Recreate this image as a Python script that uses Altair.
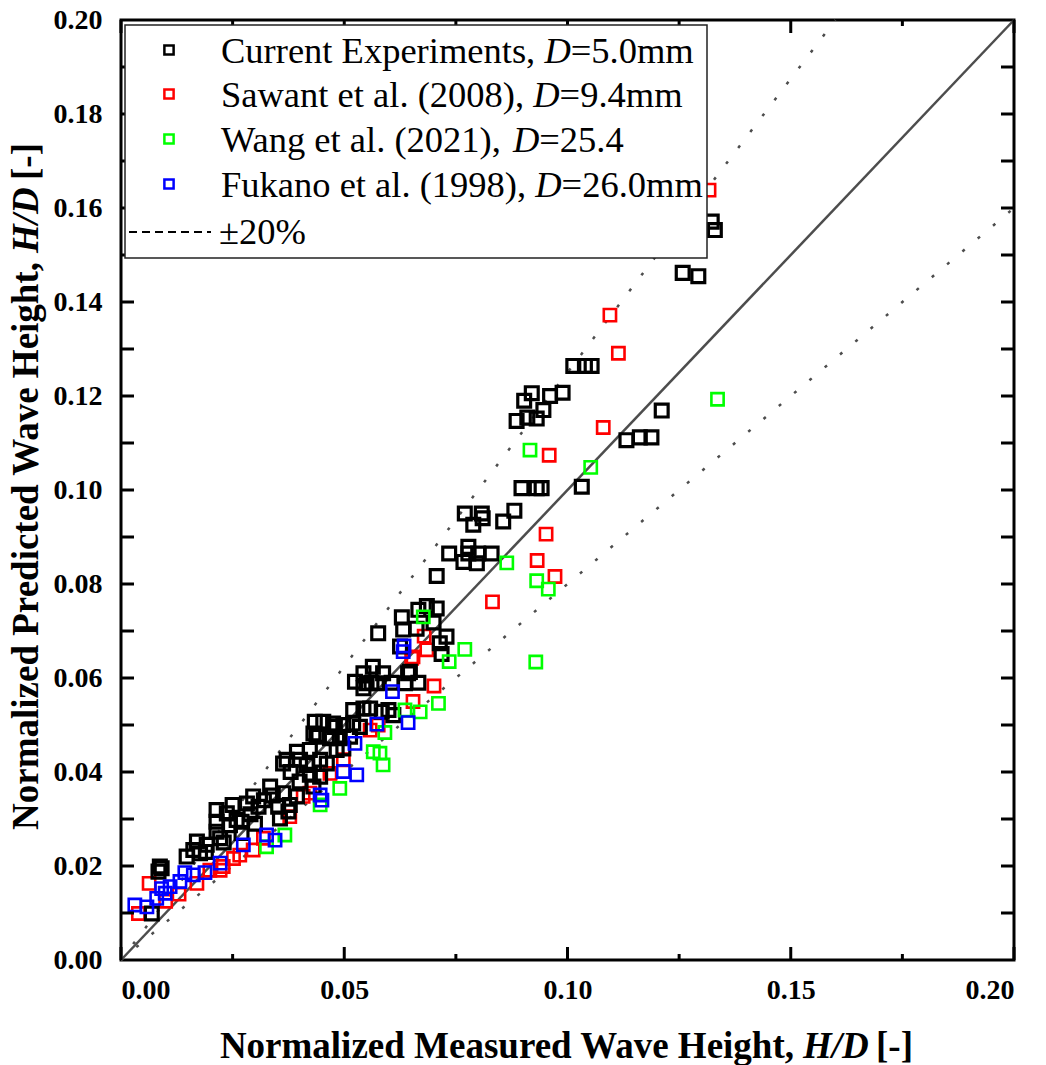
import altair as alt
import pandas as pd

# ---------------- data ----------------
black_x = [0.1323, 0.1330, 0.1258, 0.1293, 0.1013, 0.1039, 0.1054, 0.0989, 0.0961, 0.0920,
           0.0903, 0.0946, 0.0931, 0.0910, 0.0886, 0.1211, 0.1132, 0.1162, 0.1188, 0.0897,
           0.0931, 0.0942, 0.1032, 0.0770, 0.0808, 0.0789, 0.0810, 0.0881, 0.0856, 0.0735,
           0.0778, 0.0778, 0.0800, 0.0830, 0.0767, 0.0797, 0.0707, 0.0666, 0.0685, 0.0707,
           0.0629, 0.0700, 0.0632, 0.0662, 0.0576, 0.0729, 0.0714, 0.0718, 0.0625, 0.0564,
           0.0543, 0.0587, 0.0524, 0.0561, 0.0606, 0.0643, 0.0666, 0.0647, 0.0636, 0.0550,
           0.0573, 0.0543, 0.0520, 0.0543, 0.0558, 0.0584, 0.0599, 0.0610, 0.0434, 0.0453,
           0.0475, 0.0479, 0.0498, 0.0520, 0.0535, 0.0438, 0.0472, 0.0431, 0.0442, 0.0468,
           0.0490, 0.0513, 0.0498, 0.0483, 0.0394, 0.0371, 0.0401, 0.0423, 0.0446, 0.0461,
           0.0416, 0.0363, 0.0423, 0.0446, 0.0431, 0.0334, 0.0363, 0.0394, 0.0378, 0.0352,
           0.0296, 0.0308, 0.0282, 0.0214, 0.0237, 0.0259, 0.0214, 0.0244, 0.0270, 0.0356,
           0.0375, 0.0170, 0.0192, 0.0214, 0.0222, 0.0177, 0.0162, 0.0147, 0.0091, 0.0084,
           0.0087, 0.0069, 0.0250, 0.0290, 0.0320, 0.0340, 0.0270, 0.0300, 0.0190, 0.0230,
           0.0400, 0.0380]
black_y = [0.1571, 0.1553, 0.1462, 0.1455, 0.1264, 0.1264, 0.1264, 0.1207, 0.1200, 0.1206,
           0.1190, 0.1170, 0.1152, 0.1154, 0.1147, 0.1169, 0.1106, 0.1112, 0.1112, 0.1004,
           0.1004, 0.1004, 0.1007, 0.0950, 0.0950, 0.0926, 0.0940, 0.0956, 0.0933, 0.0865,
           0.0879, 0.0865, 0.0865, 0.0865, 0.0847, 0.0844, 0.0817, 0.0745, 0.0753, 0.0748,
           0.0729, 0.0718, 0.0703, 0.0705, 0.0695, 0.0688, 0.0674, 0.0651, 0.0667, 0.0624,
           0.0610, 0.0610, 0.0592, 0.0590, 0.0590, 0.0610, 0.0590, 0.0613, 0.0589, 0.0589,
           0.0589, 0.0578, 0.0532, 0.0535, 0.0535, 0.0528, 0.0532, 0.0521, 0.0507, 0.0507,
           0.0503, 0.0496, 0.0500, 0.0503, 0.0496, 0.0479, 0.0475, 0.0482, 0.0475, 0.0472,
           0.0472, 0.0475, 0.0450, 0.0447, 0.0443, 0.0426, 0.0426, 0.0447, 0.0426, 0.0418,
           0.0415, 0.0418, 0.0394, 0.0390, 0.0369, 0.0369, 0.0355, 0.0348, 0.0330, 0.0326,
           0.0348, 0.0326, 0.0333, 0.0319, 0.0312, 0.0298, 0.0294, 0.0287, 0.0294, 0.0301,
           0.0316, 0.0252, 0.0245, 0.0273, 0.0259, 0.0227, 0.0234, 0.0220, 0.0195, 0.0188,
           0.0199, 0.0099, 0.0330, 0.0310, 0.0340, 0.0350, 0.0270, 0.0290, 0.0230, 0.0250,
           0.0380, 0.0400]

red_x = [0.1317, 0.1095, 0.1114, 0.1080, 0.0959, 0.0952, 0.0932, 0.0972, 0.0832, 0.0679,
         0.0685, 0.0654, 0.0701, 0.0654, 0.0651, 0.0576, 0.0558, 0.0498, 0.0468, 0.0423,
         0.0408, 0.0378, 0.0319, 0.0296, 0.0266, 0.0252, 0.0222, 0.0199, 0.0229, 0.0170,
         0.0063, 0.0039, 0.0100, 0.0130]
red_y = [0.1638, 0.1372, 0.1291, 0.1133, 0.1074, 0.0906, 0.0850, 0.0816, 0.0762, 0.0689,
         0.0660, 0.0645, 0.0583, 0.0550, 0.0642, 0.0500, 0.0489, 0.0426, 0.0397, 0.0355,
         0.0348, 0.0305, 0.0259, 0.0234, 0.0223, 0.0216, 0.0191, 0.0191, 0.0199, 0.0163,
         0.0163, 0.0099, 0.0125, 0.0140]

green_x = [0.1336, 0.0916, 0.1052, 0.0864, 0.0931, 0.0957, 0.0929, 0.0770, 0.0735, 0.0677,
           0.0711, 0.0670, 0.0636, 0.0591, 0.0580, 0.0587, 0.0565, 0.0490, 0.0446, 0.0367,
           0.0326]
green_y = [0.1193, 0.1085, 0.1048, 0.0845, 0.0807, 0.0789, 0.0634, 0.0661, 0.0635, 0.0730,
           0.0546, 0.0528, 0.0532, 0.0484, 0.0440, 0.0415, 0.0443, 0.0365, 0.0330, 0.0266,
           0.0241]

blue_x = [0.0632, 0.0634, 0.0608, 0.0643, 0.0573, 0.0524, 0.0498, 0.0528, 0.0450, 0.0446,
          0.0345, 0.0326, 0.0274, 0.0222, 0.0188, 0.0162, 0.0143, 0.0132, 0.0110, 0.0099,
          0.0080, 0.0091, 0.0058, 0.0031]
blue_y = [0.0656, 0.0668, 0.0571, 0.0505, 0.0502, 0.0461, 0.0401, 0.0394, 0.0340, 0.0351,
          0.0255, 0.0266, 0.0245, 0.0206, 0.0186, 0.0181, 0.0186, 0.0167, 0.0156, 0.0142,
          0.0131, 0.0152, 0.0113, 0.0117]

ref_x = [0.0, 0.2]
ref_y = [0.0, 0.2]
upper_x = [0.0, 0.16]
upper_y = [0.0, 0.2]
lower_x = [0.0, 0.2]
lower_y = [0.0, 0.16]

x_labels = [0.0, 0.05, 0.10, 0.15, 0.20]
x_minor = [0.025, 0.075, 0.125, 0.175]
y_labels = [0.0, 0.02, 0.04, 0.06, 0.08, 0.10, 0.12, 0.14, 0.16, 0.18, 0.20]
y_ticks = [0.01, 0.02, 0.03, 0.04, 0.05, 0.06, 0.07, 0.08, 0.09, 0.10,
           0.11, 0.12, 0.13, 0.14, 0.15, 0.16, 0.17, 0.18, 0.19]

legend_labels = [
    ("Current Experiments,", "D", "=5.0mm"),
    ("Sawant et al. (2008),", "D", "=9.4mm"),
    ("Wang et al. (2021),", "D", "=25.4"),
    ("Fukano et al. (1998),", "D", "=26.0mm"),
]
legend_colors = ["#000000", "#ff0000", "#00ff00", "#0000ff"]
band_label = "±20%"
x_title = ("Normalized Measured Wave Height,", "H/D", "[-]")
y_title = ("Normalized Predicted Wave Height,", "H/D", "[-]")

# ---------------- layout ----------------
W, H = 893, 940
PAD_L, PAD_T = 121, 20
FONT = "Liberation Serif"

REG = {' ': 250, ',': 250, '.': 250, '(': 333, ')': 333, '=': 564, 'C': 667, 'E': 611,
       'S': 556, 'W': 944, 'F': 556, 'a': 444, 'e': 444, 'i': 278, 'k': 500, 'l': 278,
       'm': 778, 'n': 500, 'o': 500, 'p': 500, 'r': 333, 's': 389, 't': 278, 'u': 500,
       'w': 722, 'x': 500, 'g': 500, 'D': 722}
BOLD = {' ': 250, ',': 250, '-': 333, '[': 333, ']': 333, 'N': 722, 'M': 944, 'W': 1000,
        'H': 778, 'P': 611, 'a': 500, 'c': 444, 'd': 556, 'e': 444, 'g': 500, 'h': 556,
        'i': 278, 'l': 278, 'm': 833, 'o': 500, 'r': 444, 's': 389, 't': 333, 'u': 556,
        'v': 500, 'z': 444, '/': 278, 'D': 722}


def width(s, table, fs):
    return sum(table.get(c, 500) for c in s) * fs / 1000.0


one = pd.DataFrame({"k": [0]})

xscale = alt.Scale(domain=[0, 0.2], nice=False, zero=False)
yscale = alt.Scale(domain=[0, 0.2], nice=False, zero=False)
axis_common = dict(labelFont=FONT, labelFontWeight="bold", labelFontSize=28, labelColor="black",
                   ticks=False, tickSize=0, domain=False, grid=False, title=None, format=".2f")
xaxis = alt.Axis(values=x_labels, labelPadding=16, **axis_common)
yaxis = alt.Axis(values=y_labels, labelPadding=19, **axis_common)


def scatter(xs, ys, color, size, sw):
    df = pd.DataFrame({"x": xs, "y": ys})
    return alt.Chart(df).mark_point(shape="square", filled=False, color=color, size=size,
                                    strokeWidth=sw, opacity=1).encode(
        x=alt.X("x:Q", scale=xscale, axis=xaxis),
        y=alt.Y("y:Q", scale=yscale, axis=yaxis))


def refline(xs, ys, dash):
    df = pd.DataFrame({"x": xs, "y": ys})
    kw = dict(color="#4d4d4d", strokeWidth=2.5)
    if dash:
        kw["strokeDash"] = [3, 17]
    return alt.Chart(df).mark_line(**kw).encode(
        x=alt.X("x:Q", scale=xscale, axis=xaxis),
        y=alt.Y("y:Q", scale=yscale, axis=yaxis))


layers = []
layers.append(refline(upper_x, upper_y, True))
layers.append(refline(lower_x, lower_y, True))
layers.append(refline(ref_x, ref_y, False))
layers.append(scatter(red_x, red_y, "#ff0000", 150, 2.6))
layers.append(scatter(black_x, black_y, "#000000", 165, 3.2))
layers.append(scatter(green_x, green_y, "#00ff00", 150, 2.6))
layers.append(scatter(blue_x, blue_y, "#0000ff", 150, 2.6))

# inward ticks
MAJ, MIN = 13, 6
tick_style = dict(color="black", strokeWidth=3)
for vals, ln in ((x_labels, MAJ), (x_minor, MIN)):
    d = pd.DataFrame({"v": vals})
    layers.append(alt.Chart(d).mark_rule(**tick_style).encode(
        x=alt.X("v:Q", scale=xscale, axis=xaxis), y=alt.value(H), y2=alt.value(H - ln)))
    layers.append(alt.Chart(d).mark_rule(**tick_style).encode(
        x=alt.X("v:Q", scale=xscale, axis=xaxis), y=alt.value(0), y2=alt.value(ln)))
dy = pd.DataFrame({"v": y_ticks})
layers.append(alt.Chart(dy).mark_rule(**tick_style).encode(
    y=alt.Y("v:Q", scale=yscale, axis=yaxis), x=alt.value(0), x2=alt.value(MAJ)))
layers.append(alt.Chart(dy).mark_rule(**tick_style).encode(
    y=alt.Y("v:Q", scale=yscale, axis=yaxis), x=alt.value(W), x2=alt.value(W - MAJ)))

# legend box
LX0, LY0, LX1, LY1 = 125, 25, 707, 258
layers.append(alt.Chart(one).mark_rect(fill="white", stroke="#222222", strokeWidth=1.5).encode(
    x=alt.value(LX0 - PAD_L), x2=alt.value(LX1 - PAD_L),
    y=alt.value(LY0 - PAD_T), y2=alt.value(LY1 - PAD_T)))

LFS = 36.5
sym_y = [50, 94, 139, 184]
base_y = [63, 107, 152, 197]
TX = 221
SYM_X = 169


def text_layer(txt, x_abs, y_abs, fs, weight="normal", style="normal", angle=0, align="left"):
    kw = dict(text=txt, font=FONT, fontSize=fs, fontWeight=weight, fontStyle=style,
              align=align, baseline="alphabetic", color="black")
    if angle:
        kw["angle"] = angle
    return alt.Chart(one).mark_text(**kw).encode(
        x=alt.value(x_abs - PAD_L), y=alt.value(y_abs - PAD_T))


for (pre, it, post), col, sy, by in zip(legend_labels, legend_colors, sym_y, base_y):
    layers.append(alt.Chart(one).mark_point(shape="square", filled=False, color=col, size=85,
                                            strokeWidth=2.5, opacity=1).encode(
        x=alt.value(SYM_X - PAD_L), y=alt.value(sy - PAD_T)))
    layers.append(text_layer(pre, TX, by, LFS))
    x2 = TX + width(pre + " ", REG, LFS)
    layers.append(text_layer(it, x2, by, LFS, style="italic"))
    x3 = x2 + width(it, REG, LFS)
    layers.append(text_layer(post, x3, by, LFS))

layers.append(alt.Chart(one).mark_rule(color="black", strokeWidth=2, strokeDash=[8, 5]).encode(
    x=alt.value(129 - PAD_L), x2=alt.value(211 - PAD_L), y=alt.value(232 - PAD_T)))
layers.append(text_layer(band_label, 219, 244, LFS))

# axis titles (mixed upright / italic segments), anchored at the italic part
TFS = 37
SP = 9
K = 0.973  # rendered / nominal width of the bold face
hd_w = width(x_title[1], BOLD, TFS) * K

AX = 803  # absolute x where "H/D" starts
layers.append(text_layer(x_title[0], AX - SP, 1058, TFS, weight="bold", align="right"))
layers.append(text_layer(x_title[1], AX, 1058, TFS, weight="bold", style="italic"))
layers.append(text_layer(x_title[2], AX + hd_w + SP, 1058, TFS, weight="bold"))

AY = 253  # absolute y where "H/D" starts (text runs upward)
layers.append(text_layer(y_title[0], 38, AY + SP, TFS, weight="bold", angle=270, align="right"))
layers.append(text_layer(y_title[1], 38, AY, TFS, weight="bold", style="italic", angle=270))
layers.append(text_layer(y_title[2], 38, AY - hd_w - SP, TFS, weight="bold", angle=270))

chart = alt.layer(*layers).properties(
    width=W, height=H,
    autosize=alt.AutoSizeParams(type="none"),
    padding={"left": PAD_L, "top": PAD_T, "right": 1046 - PAD_L - W, "bottom": 1065 - PAD_T - H},
    background="white",
).configure_view(stroke="black", strokeWidth=3)

chart.save("out.html", embed_options={"renderer": "svg", "actions": False})
